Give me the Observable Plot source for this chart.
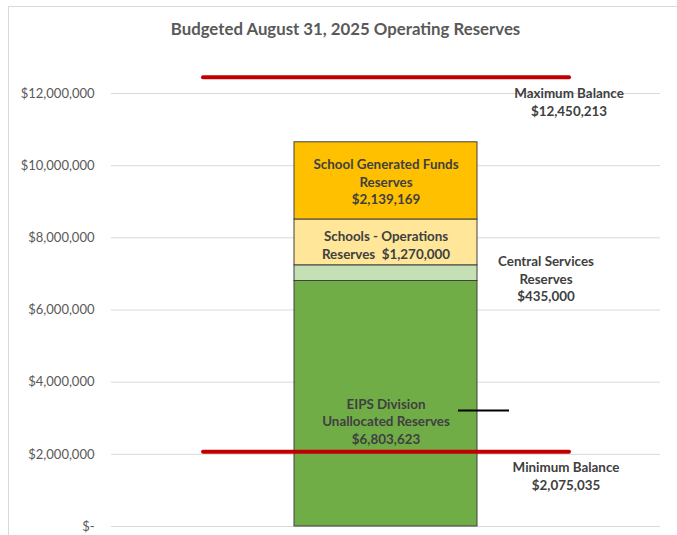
<!DOCTYPE html>
<html>
<head>
<meta charset="utf-8">
<script src="https://cdn.jsdelivr.net/npm/d3@7"></script>
<script src="https://cdn.jsdelivr.net/npm/@observablehq/plot@0.6"></script>
<style>
  html, body { margin: 0; padding: 0; background: #fff; }
  #wrap { position: relative; width: 677px; height: 535px; overflow: hidden; font-family: Lato, "Open Sans", sans-serif; }
  #frame { position: absolute; left: 8px; top: 6px; width: 700px; height: 600px; border-left: 1px solid #d9d9d9; border-top: 1px solid #d9d9d9; box-sizing: border-box; }
  #title { position: relative; height: 50px; line-height: 50px; text-align: center; font-weight: bold; font-size: 16.8px; color: #595959; padding-left: 14px; padding-top: 4px; box-sizing: border-box; }
  #chart { position: relative; }
</style>
</head>
<body>
<div id="wrap">
  <div id="frame"></div>
  <div id="title">Budgeted August 31, 2025 Operating Reserves</div>
  <div id="chart"></div>
</div>
<script>
// ---- data ----
const categories = ["Operating Reserves"];
const segments = [
  "EIPS Division Unallocated Reserves",
  "Central Services Reserves",
  "Schools - Operations Reserves",
  "School Generated Funds Reserves"
];
const amounts = [6803623, 435000, 1270000, 2139169];
const segmentLabels = [
  "EIPS Division\nUnallocated Reserves\n$6,803,623",
  "Central Services\nReserves\n$435,000",
  "Schools - Operations\nReserves  $1,270,000",
  "School Generated Funds\nReserves\n$2,139,169"
];
const segmentColors = ["#70AD47", "#C5E0B4", "#FFE699", "#FFC000"];
const limitNames = ["Maximum Balance", "Minimum Balance"];
const limitValues = [12450213, 2075035];
const limitLabels = ["Maximum Balance\n$12,450,213", "Minimum Balance\n$2,075,035"];
const leaderValues = [3215000];
const yTicks = [0, 2000000, 4000000, 6000000, 8000000, 10000000, 12000000];

// ---- tables built from the arrays ----
const cat = categories[0];
const ends = d3.cumsum(amounts);
const rows = segments.map((s, i) => ({
  category: cat, segment: s, value: amounts[i],
  label: segmentLabels[i], mid: ends[i] - amounts[i] / 2
}));
const limits = limitNames.map((n, i) => ({category: cat, name: n, value: limitValues[i], label: limitLabels[i]}));
const leaders = leaderValues.map(v => ({category: cat, value: v}));

const fmt = v => v === 0 ? "$-" : "$" + d3.format(",")(v);
const textStyle = {fontFamily: "Lato, 'Open Sans', sans-serif", fontSize: 13.4, fontWeight: "bold", fill: "#404040", lineHeight: 1.32};

const labelOffsets = [
  {dx: 0, dy: 17},
  {dx: 160, dy: 5},
  {dx: 0, dy: 2},
  {dx: 0, dy: 0}
];

const plot = Plot.plot({
  width: 677,
  height: 485,
  marginLeft: 111,
  marginRight: 17,
  marginTop: 43,
  marginBottom: 9,
  style: {fontFamily: "Lato, 'Open Sans', sans-serif", fontSize: "13px", color: "#595959", background: "transparent"},
  x: {domain: categories, padding: 0.5, axis: null},
  y: {domain: [0, 12000000], ticks: yTicks, tickFormat: fmt, tickSize: 0, tickPadding: 17, label: null, grid: false},
  color: {domain: segments, range: segmentColors},
  marks: [
    Plot.ruleY(yTicks, {stroke: "#d9d9d9", strokeWidth: 1}),
    Plot.axisY({ticks: yTicks, tickFormat: fmt, tickSize: 0, tickPadding: 17, label: null, fill: "#595959", fontSize: 13}),
    Plot.barY(rows, {x: "category", y: "value", fill: "segment", stroke: "#404040", strokeWidth: 1, order: segments}),
    ...rows.map((r, i) => Plot.text([r], {x: "category", y: "mid", text: "label", dx: labelOffsets[i].dx, dy: labelOffsets[i].dy, ...textStyle})),
    Plot.tickY(leaders, {x: "category", y: "value", stroke: "#000", strokeWidth: 2, insetLeft: 164, insetRight: -32}),
    Plot.tickY(limits, {x: "category", y: "value", stroke: "#C00000", strokeWidth: 4, strokeLinecap: "round", insetLeft: -91, insetRight: -92}),
    Plot.text([limits[0]], {x: "category", y: "value", text: "label", dx: 183, dy: 24, ...textStyle}),
    Plot.text([limits[1]], {x: "category", y: "value", text: "label", dx: 180, dy: 23.5, ...textStyle})
  ]
});
document.getElementById("chart").appendChild(plot);
</script>
</body>
</html>
